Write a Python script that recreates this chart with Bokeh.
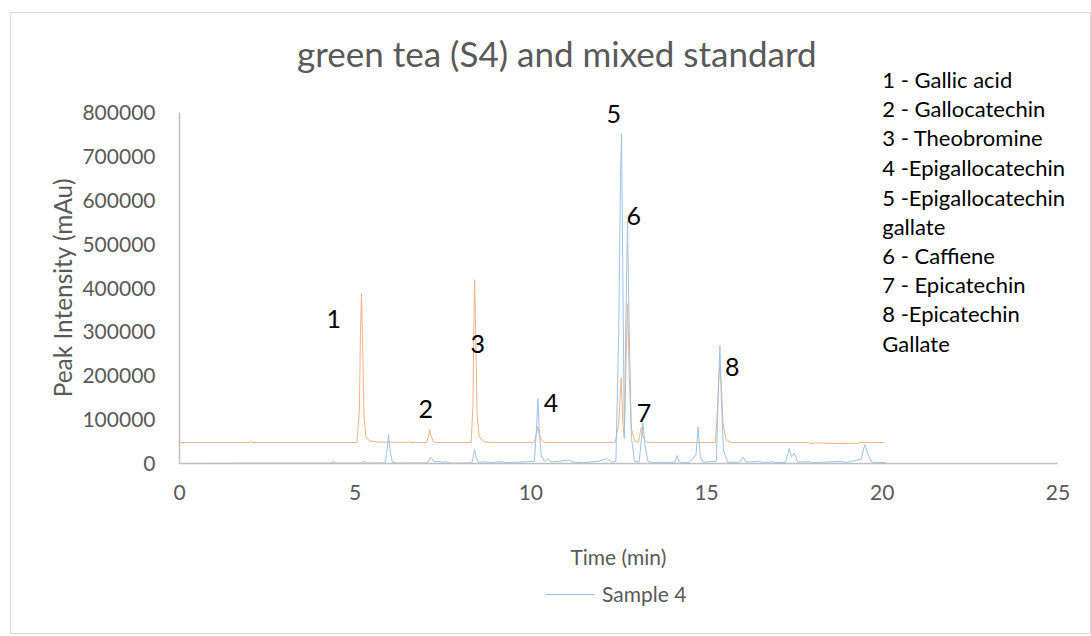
from bokeh.plotting import figure
from bokeh.models import Range1d, FixedTicker, NumeralTickFormatter, Label, Legend, LegendItem
from bokeh.embed import file_html
from bokeh.resources import INLINE
import math

# ---- data ----
time_standard = [0.0, 2.0, 2.03, 2.06, 5.05, 5.12, 5.15, 5.18, 5.21, 5.25, 5.3, 5.4, 5.6,
                 6.5, 6.52, 6.55, 7.03, 7.09, 7.12, 7.16, 7.22, 7.3,
                 8.3, 8.35, 8.38, 8.4, 8.43, 8.47, 8.53, 8.65, 8.8,
                 10.1, 10.16, 10.2, 10.24, 10.3, 10.4,
                 12.4, 12.5, 12.57, 12.62, 12.66, 12.7, 12.75, 12.8, 12.86, 12.95,
                 13.05, 13.1, 13.14, 13.19, 13.26, 13.35,
                 15.25, 15.31, 15.35, 15.38, 15.42, 15.47, 15.55, 15.7,
                 17.9, 17.95, 18.1, 18.8, 19.3, 19.35, 20.05]
intensity_standard = [48000, 48000, 51000, 48000, 48000, 120000, 300000, 387000, 280000, 110000, 62000, 52000, 49000,
                      48000, 50000, 48000, 48000, 62000, 77000, 62000, 51000, 48000,
                      48000, 130000, 330000, 419000, 300000, 110000, 60000, 50000, 48000,
                      48000, 68000, 84000, 68000, 52000, 48000,
                      48000, 90000, 196000, 90000, 60000, 200000, 364000, 200000, 80000, 52000,
                      48000, 65000, 82000, 62000, 50000, 48000,
                      48000, 120000, 200000, 228000, 180000, 90000, 55000, 48000,
                      48000, 45000, 47000, 45500, 46000, 48000, 48000]

time_sample4 = [0.0, 2.0, 4.3, 4.39, 4.45, 5.2, 5.24, 5.3, 5.85, 5.9, 5.95, 6.0, 6.06, 6.2,
                7.05, 7.15, 7.25, 7.35, 7.45, 7.6, 7.7,
                8.32, 8.37, 8.4, 8.44, 8.5, 8.72, 8.8, 9.15, 9.3, 9.6, 9.9,
                10.1, 10.16, 10.2, 10.24, 10.3, 10.4, 10.48, 10.58, 10.8, 11.08, 11.2, 11.5, 11.9,
                12.17, 12.3, 12.42, 12.5, 12.55, 12.58, 12.62, 12.66, 12.7, 12.75, 12.8, 12.86, 12.95,
                13.08, 13.14, 13.19, 13.25, 13.33, 13.5,
                14.1, 14.16, 14.22, 14.5, 14.7, 14.76, 14.82, 14.9,
                15.28, 15.33, 15.38, 15.42, 15.48, 15.6, 15.95, 16.04, 16.12, 16.5, 16.6, 16.87, 17.0,
                17.25, 17.35, 17.42, 17.5, 17.6, 17.92, 18.05, 18.83, 18.95,
                19.4, 19.5, 19.6, 19.7, 20.1]
intensity_sample4 = [0, 1000, 1000, 5000, 1000, 1000, 6000, 1000, 1500, 25000, 66000, 25000, 3000, 1000,
                     1500, 14000, 4000, 5000, 3000, 4000, 1000,
                     1500, 20000, 32000, 15000, 3000, 4000, 2000, 4000, 2000, 3000, 4000,
                     5000, 80000, 148000, 70000, 15000, 5000, 11000, 3000, 5000, 8000, 3000, 2000, 5000,
                     11000, 3000, 5000, 300000, 650000, 752000, 400000, 57000, 300000, 553000, 300000, 60000, 5000,
                     3000, 50000, 93000, 40000, 5000, 2000,
                     3000, 18000, 3000, 2000, 20000, 84000, 15000, 3000,
                     5000, 150000, 269000, 150000, 30000, 3000, 3000, 14000, 3000, 5000, 2000, 4000, 2000,
                     3000, 34000, 15000, 23000, 3000, 4000, 2000, 5000, 2000,
                     10000, 43000, 20000, 3000, 2000]

x_ticks = [0, 5, 10, 15, 20, 25]
y_ticks = [0, 100000, 200000, 300000, 400000, 500000, 600000, 700000, 800000]

peak_ids = ["1", "2", "3", "4", "5", "6", "7", "8"]
peak_label_x = [4.39, 7.01, 8.49, 10.57, 12.36, 12.93, 13.22, 15.73]
peak_label_y = [330000, 125000, 273000, 139000, 797000, 565000, 114000, 221000]

compound_lines = ["1 - Gallic acid", "2 - Gallocatechin", "3 - Theobromine", "4 -Epigallocatechin",
                  "5 -Epigallocatechin", "gallate", "6 - Caffiene", "7 - Epicatechin",
                  "8 -Epicatechin", "Gallate"]
compound_x = 20.0
compound_y = [874700, 808700, 742600, 674300, 605900, 539900, 473800, 407700, 341700, 273300]

title_text = "green tea (S4) and mixed standard"
title_x, title_y = 10.74, 936000
x_title_text = "Time (min)"
x_title_x, x_title_y = 12.49, -212000
y_title_text = "Peak Intensity (mAu)"
y_title_x, y_title_y = -3.33, 401000

FONT = "Lato"
GRAY = "#595959"

p = figure(width=1081, height=622, output_backend="svg", toolbar_location=None,
           x_range=Range1d(-3.956, 25.5), y_range=Range1d(-357800, 986900),
           min_border_left=29, min_border_right=17, min_border_top=17, min_border_bottom=15,
           title_location=None)
p.styles = {"margin-left": "10px", "margin-top": "12px", "border": "1px solid #D9D9D9"}
p.background_fill_color = "white"
p.border_fill_color = "white"
p.outline_line_color = None
p.xgrid.visible = False
p.ygrid.visible = False

orange = p.line(time_standard, intensity_standard, line_color="#F4B183", line_width=1)
blue = p.line(time_sample4, intensity_sample4, line_color="#9DC3E6", line_width=1)

for ax in (p.xaxis[0], p.yaxis[0]):
    ax.axis_line_color = "#BFBFBF"
    ax.axis_line_width = 1.5
    ax.major_tick_line_color = None
    ax.minor_tick_line_color = None
    ax.major_tick_out = 0
    ax.major_tick_in = 0
    ax.major_label_text_font = FONT
    ax.major_label_text_font_size = "21px"
    ax.major_label_text_color = GRAY
    ax.fixed_location = 0

xa = p.xaxis[0]
ya = p.yaxis[0]
xa.ticker = FixedTicker(ticks=x_ticks)
ya.ticker = FixedTicker(ticks=y_ticks)
xa.bounds = (x_ticks[0], x_ticks[-1])
ya.bounds = (y_ticks[0], y_ticks[-1])
ya.formatter = NumeralTickFormatter(format="0")
xa.major_label_standoff = 21
ya.major_label_standoff = 24

p.add_layout(Label(x=y_title_x, y=y_title_y, text=y_title_text, angle=math.pi / 2,
                   text_align="center", text_baseline="middle",
                   text_font=FONT, text_font_size="24.4px", text_color=GRAY))

p.add_layout(Label(x=x_title_x, y=x_title_y, text=x_title_text, text_align="center", text_baseline="middle",
                   text_font=FONT, text_font_size="21px", text_color=GRAY))

p.add_layout(Label(x=title_x, y=title_y, text=title_text, text_align="center", text_baseline="middle",
                   text_font=FONT, text_font_size="35px", text_color=GRAY))

for t, lx, ly in zip(peak_ids, peak_label_x, peak_label_y):
    p.add_layout(Label(x=lx, y=ly, text=t, text_align="center", text_baseline="middle",
                       text_font=FONT, text_font_size="25px", text_color="black"))

for t, ly in zip(compound_lines, compound_y):
    p.add_layout(Label(x=compound_x, y=ly, text=t, text_align="left", text_baseline="middle",
                       text_font=FONT, text_font_size="22px", text_color="black"))

legend = Legend(items=[LegendItem(label="Sample 4", renderers=[blue])], location=(505, 14),
                orientation="horizontal", glyph_width=50, glyph_height=20, label_standoff=7,
                padding=0, margin=0, border_line_color=None, background_fill_alpha=0,
                label_text_font=FONT, label_text_font_size="21px", label_text_color=GRAY)
p.add_layout(legend)

open("out.html", "w").write(file_html(p, INLINE))
